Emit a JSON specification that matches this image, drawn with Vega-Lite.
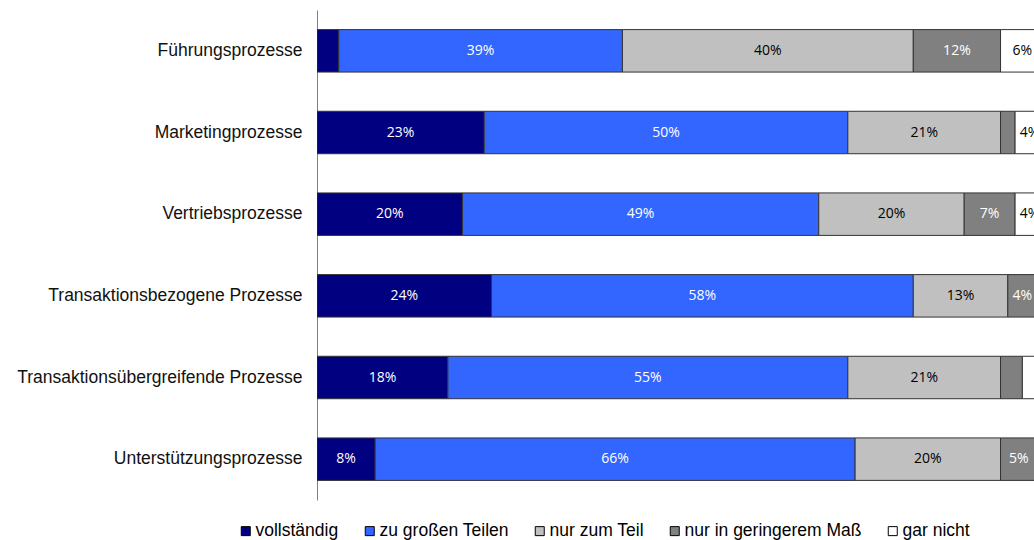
{
  "$schema": "https://vega.github.io/schema/vega-lite/v6.json",
  "autosize": "none",
  "width": 717,
  "height": 490,
  "padding": {"left": 317, "top": 10, "right": 0, "bottom": 40},
  "background": "white",
  "config": {"view": {"stroke": null}},
  "data": {"values": [
    {"proc": "Führungsprozesse", "cat": "vollständig", "pct": 3},
    {"proc": "Führungsprozesse", "cat": "zu großen Teilen", "pct": 39},
    {"proc": "Führungsprozesse", "cat": "nur zum Teil", "pct": 40},
    {"proc": "Führungsprozesse", "cat": "nur in geringerem Maß", "pct": 12},
    {"proc": "Führungsprozesse", "cat": "gar nicht", "pct": 6},
    {"proc": "Marketingprozesse", "cat": "vollständig", "pct": 23},
    {"proc": "Marketingprozesse", "cat": "zu großen Teilen", "pct": 50},
    {"proc": "Marketingprozesse", "cat": "nur zum Teil", "pct": 21},
    {"proc": "Marketingprozesse", "cat": "nur in geringerem Maß", "pct": 2},
    {"proc": "Marketingprozesse", "cat": "gar nicht", "pct": 4},
    {"proc": "Vertriebsprozesse", "cat": "vollständig", "pct": 20},
    {"proc": "Vertriebsprozesse", "cat": "zu großen Teilen", "pct": 49},
    {"proc": "Vertriebsprozesse", "cat": "nur zum Teil", "pct": 20},
    {"proc": "Vertriebsprozesse", "cat": "nur in geringerem Maß", "pct": 7},
    {"proc": "Vertriebsprozesse", "cat": "gar nicht", "pct": 4},
    {"proc": "Transaktionsbezogene Prozesse", "cat": "vollständig", "pct": 24},
    {"proc": "Transaktionsbezogene Prozesse", "cat": "zu großen Teilen", "pct": 58},
    {"proc": "Transaktionsbezogene Prozesse", "cat": "nur zum Teil", "pct": 13},
    {"proc": "Transaktionsbezogene Prozesse", "cat": "nur in geringerem Maß", "pct": 4},
    {"proc": "Transaktionsbezogene Prozesse", "cat": "gar nicht", "pct": 1},
    {"proc": "Transaktionsübergreifende Prozesse", "cat": "vollständig", "pct": 18},
    {"proc": "Transaktionsübergreifende Prozesse", "cat": "zu großen Teilen", "pct": 55},
    {"proc": "Transaktionsübergreifende Prozesse", "cat": "nur zum Teil", "pct": 21},
    {"proc": "Transaktionsübergreifende Prozesse", "cat": "nur in geringerem Maß", "pct": 3},
    {"proc": "Transaktionsübergreifende Prozesse", "cat": "gar nicht", "pct": 3},
    {"proc": "Unterstützungsprozesse", "cat": "vollständig", "pct": 8},
    {"proc": "Unterstützungsprozesse", "cat": "zu großen Teilen", "pct": 66},
    {"proc": "Unterstützungsprozesse", "cat": "nur zum Teil", "pct": 20},
    {"proc": "Unterstützungsprozesse", "cat": "nur in geringerem Maß", "pct": 5},
    {"proc": "Unterstützungsprozesse", "cat": "gar nicht", "pct": 1}
  ]},
  "transform": [
    {"calculate": "indexof(['vollständig','zu großen Teilen','nur zum Teil','nur in geringerem Maß','gar nicht'], datum.cat)", "as": "rank"},
    {"stack": "pct", "groupby": ["proc"], "sort": [{"field": "rank", "order": "ascending"}], "as": ["x0", "x1"]},
    {"calculate": "(datum.x0 + datum.x1) / 2", "as": "xm"},
    {"calculate": "datum.pct + '%'", "as": "label"}
  ],
  "encoding": {
    "y": {
      "field": "proc", "type": "nominal", "sort": null, "title": null,
      "scale": {"paddingInner": 0.48, "paddingOuter": 0.24},
      "axis": {
        "ticks": false, "labelFont": "Liberation Sans", "labelFontSize": 17.5,
        "labelColor": "#111111", "labelPadding": 15, "domainColor": "#808080",
        "domainWidth": 1, "labelLimit": 400
      }
    }
  },
  "layer": [
    {
      "mark": {"type": "bar", "stroke": "#333333", "strokeWidth": 1, "clip": true},
      "encoding": {
        "x": {"field": "x0", "type": "quantitative", "axis": null, "scale": {"domain": [0, 98.6], "nice": false, "zero": true}},
        "x2": {"field": "x1"},
        "color": {
          "field": "cat", "type": "nominal", "title": null,
          "scale": {
            "domain": ["vollständig", "zu großen Teilen", "nur zum Teil", "nur in geringerem Maß", "gar nicht"],
            "range": ["#000080", "#3366FF", "#C0C0C0", "#808080", "#FFFFFF"]
          },
          "legend": {
            "orient": "none", "direction": "horizontal", "legendX": -80, "legendY": 512,
            "symbolType": "square", "symbolSize": 81, "symbolStrokeColor": "#000000",
            "symbolStrokeWidth": 1, "labelFont": "Liberation Sans", "labelFontSize": 17.5,
            "labelColor": "#000000", "columnPadding": 22, "labelOffset": 1, "labelLimit": 400
          }
        }
      }
    },
    {
      "transform": [{"filter": "datum.pct >= 4"}],
      "mark": {"type": "text", "font": "Open Sans", "fontSize": 14, "clip": true, "baseline": "middle", "align": "center"},
      "encoding": {
        "x": {"field": "xm", "type": "quantitative"},
        "text": {"field": "label", "type": "nominal"},
        "color": {
          "condition": {"test": "datum.cat === 'nur zum Teil' || datum.cat === 'gar nicht'", "value": "#000000"},
          "value": "#FFFFFF"
        }
      }
    }
  ]
}
